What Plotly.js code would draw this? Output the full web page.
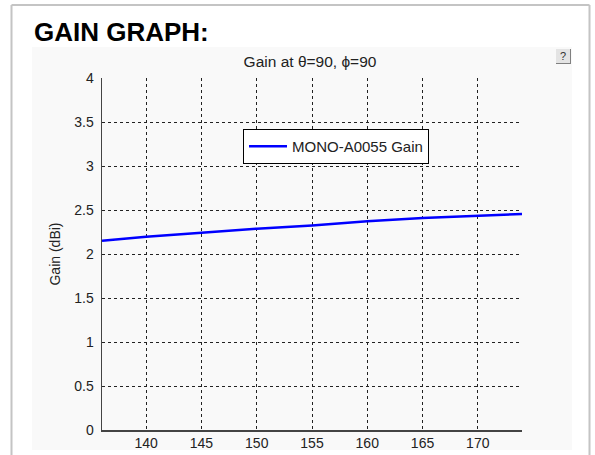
<!DOCTYPE html>
<html>
<head>
<meta charset="utf-8">
<script src="https://cdn.plot.ly/plotly-3.0.1.min.js"></script>
<style>
html,body{margin:0;padding:0;background:#fff;}
#chart{width:595px;height:455px;}
</style>
</head>
<body>
<div id="chart"></div>
<script>
// Data
var angleDeg = [136, 140, 145, 150, 155, 160, 165, 170, 174];
var gainDbi  = [2.151, 2.197, 2.242, 2.288, 2.325, 2.372, 2.408, 2.435, 2.455];
var seriesName = 'MONO-A0055 Gain';
var chartTitle = 'Gain at \u03B8=90, \u03D5=90';
var pageHeading = 'GAIN GRAPH:';
var yTitle = 'Gain (dBi)';

// pixel -> paper helpers (plot area: x 102..522, y 78..430)
var L = 102, R = 73, T = 78, B = 25, W = 595, H = 455;
var PW = W - L - R, PH = H - T - B;
function px(x){ return (x - L) / PW; }
function py(y){ return (H - B - y) / PH; }

var fontFam = 'Liberation Sans, Arial, Helvetica, sans-serif';

var trace = {
  x: angleDeg,
  y: gainDbi,
  type: 'scatter',
  mode: 'lines',
  name: seriesName,
  line: {color: '#0000ff', width: 2.5},
  showlegend: true
};

var axisCommon = {
  showgrid: true,
  gridcolor: '#222222',
  gridwidth: 1,
  griddash: '3px,3px',
  zeroline: false,
  showline: true,
  linecolor: '#444444',
  linewidth: 1.5,
  ticks: '',
  tickfont: {family: fontFam, size: 14, color: '#222222'},
  fixedrange: true
};

var layout = {
  width: W,
  height: H,
  margin: {l: L, r: R, t: T, b: B, pad: 0},
  paper_bgcolor: '#ffffff',
  plot_bgcolor: 'rgba(0,0,0,0)',
  font: {family: fontFam, color: '#222222'},
  title: {
    text: chartTitle,
    font: {family: fontFam, size: 15.5, color: '#222222'},
    xref: 'paper', x: px(310), xanchor: 'center',
    yref: 'container', y: 1 - 62 / H, yanchor: 'middle'
  },
  xaxis: Object.assign({}, axisCommon, {
    range: [136, 174],
    tick0: 140,
    dtick: 5,
    mirror: false
  }),
  yaxis: Object.assign({}, axisCommon, {
    range: [0, 4],
    dtick: 0.5,
    tick0: 0,
    ticklabelstandoff: 4,
    automargin: false,
    title: {text: yTitle, font: {family: fontFam, size: 14, color: '#222222'}, standoff: 10}
  }),
  legend: {
    x: px(243), y: py(129),
    xanchor: 'left', yanchor: 'top',
    bgcolor: '#ffffff',
    bordercolor: '#000000',
    borderwidth: 1,
    itemwidth: 38,
    font: {family: fontFam, size: 15, color: '#222222'}
  },
  shapes: [
    // light panel behind chart
    {type: 'rect', xref: 'paper', yref: 'paper', layer: 'below',
     x0: px(32), x1: px(572), y0: py(450), y1: py(47),
     fillcolor: '#f9f9f9', line: {width: 0}},
    // outer page border (left, right, top)
    {type: 'line', xref: 'paper', yref: 'paper', layer: 'below',
     x0: px(11.5), x1: px(11.5), y0: py(460), y1: py(5),
     line: {color: '#c4c4c4', width: 2}},
    {type: 'line', xref: 'paper', yref: 'paper', layer: 'below',
     x0: px(589.5), x1: px(589.5), y0: py(460), y1: py(5),
     line: {color: '#c4c4c4', width: 2}},
    {type: 'line', xref: 'paper', yref: 'paper', layer: 'below',
     x0: px(11.5), x1: px(589.5), y0: py(5), y1: py(5),
     line: {color: '#c4c4c4', width: 2}},
    // help button
    {type: 'rect', xref: 'paper', yref: 'paper', layer: 'above',
     x0: px(556), x1: px(571), y0: py(64), y1: py(49),
     fillcolor: '#e4e4e4', line: {width: 0}},
    {type: 'line', xref: 'paper', yref: 'paper', layer: 'above',
     x0: px(556), x1: px(571), y0: py(63.5), y1: py(63.5),
     line: {color: '#808080', width: 1}},
    {type: 'line', xref: 'paper', yref: 'paper', layer: 'above',
     x0: px(570.5), x1: px(570.5), y0: py(64), y1: py(49),
     line: {color: '#808080', width: 1}}
  ],
  annotations: [
    {text: '<b>' + pageHeading + '</b>', xref: 'paper', yref: 'paper',
     x: px(32), y: py(31.5), xanchor: 'left', yanchor: 'middle',
     showarrow: false, font: {family: fontFam, size: 26, color: '#000000'}},
    {text: '?', xref: 'paper', yref: 'paper',
     x: px(563), y: py(56), xanchor: 'center', yanchor: 'middle',
     showarrow: false, font: {family: fontFam, size: 11, color: '#333333'}}
  ]
};

Plotly.newPlot('chart', [trace], layout, {displayModeBar: false, staticPlot: true});
</script>
</body>
</html>
